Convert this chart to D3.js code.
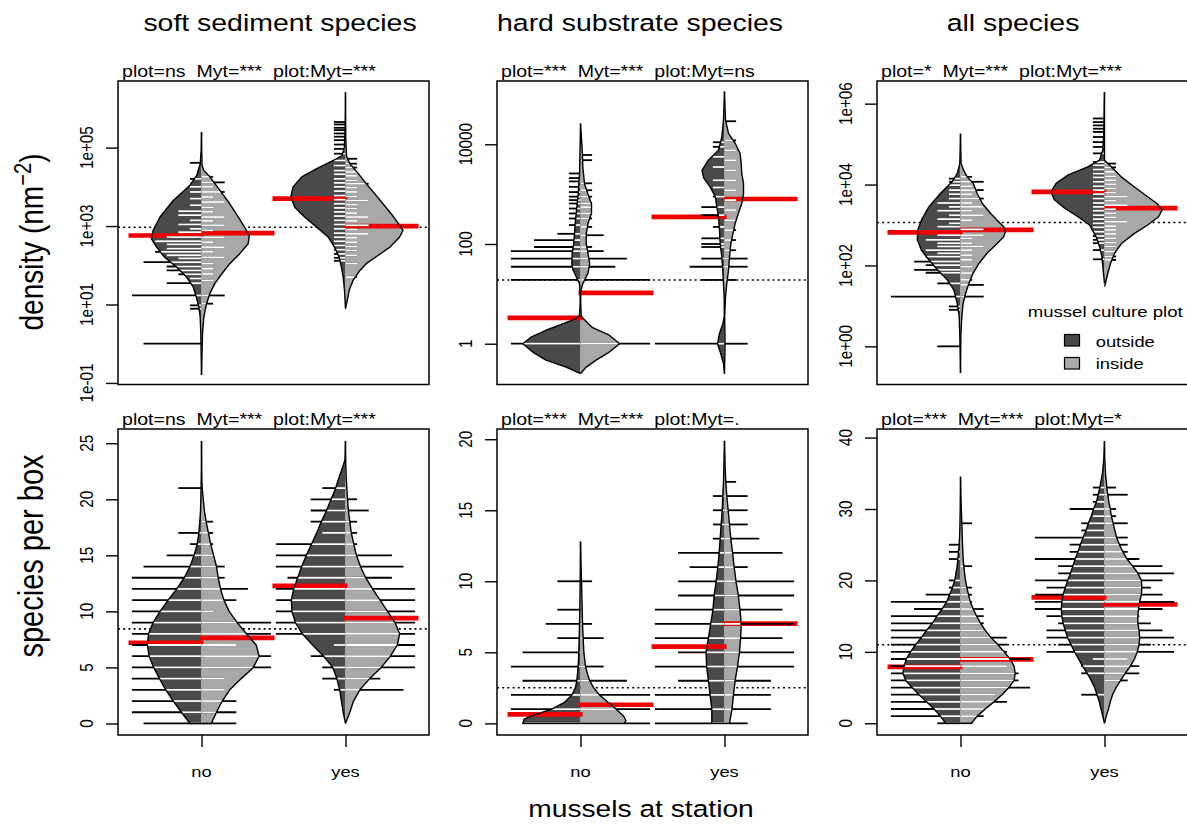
<!DOCTYPE html>
<html><head><meta charset="utf-8">
<script src="https://cdn.jsdelivr.net/npm/d3@7"></script>
<style>
body{margin:0;background:#fff}
text{font-family:"Liberation Sans",Arial,Helvetica,sans-serif}
</style>
</head><body>
<script>
// ---------------- DATA ----------------
const columnTitles = ["soft sediment species", "hard substrate species", "all species"];
const rowTitles = ["density (nm", "species per box"];
const xTitle = "mussels at station";
const groups = ["no", "yes"];
const legendTitle = "mussel culture plot";
const legendLabels = ["outside", "inside"];
const notes = [
  "plot=ns  Myt=***  plot:Myt=***",
  "plot=***  Myt=***  plot:Myt=ns",
  "plot=*  Myt=***  plot:Myt=***",
  "plot=ns  Myt=***  plot:Myt=***",
  "plot=***  Myt=***  plot:Myt=.",
  "plot=***  Myt=***  plot:Myt=*"
];

// axis limits and ticks
const softDensLimits = [0.0912, 5.0e6];
const hardDensLimits = [0.152, 186000];
const allDensLimits = [0.114, 3.63e6];
const softRichLimits = [-1.03, 26.27];
const hardRichLimits = [-0.82, 20.72];
const allRichLimits = [-1.64, 41.2];
const softDensTicks = [0.1, 10, 1000, 100000];
const softDensTickLabels = ["1e-01", "1e+01", "1e+03", "1e+05"];
const hardDensTicks = [1, 100, 10000];
const hardDensTickLabels = ["1", "100", "10000"];
const allDensTicks = [1, 100, 10000, 1000000];
const allDensTickLabels = ["1e+00", "1e+02", "1e+04", "1e+06"];
const softRichTicks = [0, 5, 10, 15, 20, 25];
const hardRichTicks = [0, 5, 10, 15, 20];
const allRichTicks = [0, 10, 20, 30, 40];

// bean outlines: [value, relative density]; order: no/outside, no/inside, yes/outside, yes/inside
const softDens_no_out = [[0.16,0],[1.8,0.012],[4.8,0.023],[8.5,0.046],[15,0.087],[28,0.145],[50,0.26],[89,0.43],[160,0.64],[290,0.78],[480,0.87],[780,0.84],[1700,0.72],[4500,0.49],[11000,0.2],[20000,0.08],[40000,0.02],[100000,0.005],[250000,0]];
const softDens_no_in = [[0.16,0],[1.8,0.017],[4.8,0.04],[10.5,0.087],[19,0.145],[34,0.23],[60,0.35],[110,0.49],[195,0.66],[355,0.81],[575,0.83],[930,0.75],[1700,0.64],[3700,0.49],[8100,0.32],[18000,0.145],[26000,0.04],[35000,0.01],[100000,0.003],[250000,0]];
const softDens_yes_out = [[7.9,0],[23,0.017],[50,0.04],[89,0.07],[160,0.11],[290,0.19],[525,0.3],[930,0.5],[1700,0.71],[3000,0.88],[5500,0.95],[10000,0.91],[18000,0.76],[32000,0.45],[48000,0.2],[63000,0.06],[100000,0.02],[320000,0.006],[1000000,0.002],[2600000,0]];
const softDens_yes_in = [[7.8,0],[12.6,0.03],[23,0.064],[41,0.13],[74,0.25],[110,0.36],[180,0.57],[290,0.77],[525,0.94],[780,1.0],[1150,0.92],[2000,0.8],[3700,0.65],[6600,0.51],[12000,0.36],[22000,0.22],[39000,0.075],[58000,0.02],[160000,0.005],[2600000,0]];

const hardDens_no_out = [[0.25,0],[0.34,0.25],[0.47,0.6],[0.68,0.83],[1,1.0],[1.35,0.86],[1.86,0.6],[2.5,0.31],[3.2,0.075],[3.7,0.017],[6.3,0.006],[10,0.006],[16,0.017],[22,0.075],[30,0.13],[40,0.15],[65,0.145],[100,0.12],[160,0.104],[260,0.093],[410,0.075],[650,0.058],[1000,0.04],[1600,0.029],[2600,0.017],[4800,0.012],[10000,0.006],[26000,0]];
const hardDens_no_in = [[0.25,0],[0.34,0.1],[0.47,0.27],[0.68,0.5],[1,0.68],[1.48,0.5],[2.1,0.21],[3.5,0.012],[7,0.003],[11,0.003],[16,0.04],[26,0.13],[40,0.16],[65,0.13],[100,0.1],[160,0.1],[260,0.13],[410,0.19],[650,0.19],[1000,0.13],[1600,0.07],[3500,0.04],[7600,0.03],[26000,0]];
const hardDens_yes_out = [[0.25,0],[0.4,0.017],[0.63,0.064],[1,0.12],[1.6,0.087],[2.5,0.03],[3.5,0.003],[8.7,0.006],[16,0.017],[30,0.03],[55,0.046],[100,0.075],[190,0.087],[355,0.104],[560,0.133],[890,0.16],[1400,0.25],[2100,0.36],[3000,0.39],[4800,0.28],[7600,0.104],[14000,0.046],[31000,0.017],[115000,0]];
const hardDens_yes_in = [[0.25,0],[1,0.01],[3.5,0.003],[8.7,0.017],[16,0.04],[30,0.07],[55,0.087],[100,0.11],[160,0.145],[260,0.185],[410,0.24],[650,0.3],[1000,0.33],[1650,0.33],[2600,0.3],[4200,0.29],[6600,0.27],[10500,0.185],[16500,0.07],[31000,0.017],[115000,0]];

const allDens_no_out = [[0.22,0],[1.8,0.012],[5.5,0.023],[11.7,0.058],[25,0.116],[44,0.23],[78,0.4],[138,0.55],[240,0.68],[430,0.75],[760,0.74],[1300,0.68],[2800,0.55],[6000,0.35],[11700,0.145],[18600,0.058],[33000,0.012],[180000,0]];
const allDens_no_in = [[0.22,0],[1.8,0.006],[5.5,0.023],[11.7,0.046],[20,0.087],[36,0.145],[65,0.22],[112,0.32],[200,0.46],[355,0.64],[510,0.75],[680,0.78],[910,0.75],[1300,0.64],[1950,0.52],[3400,0.38],[6000,0.29],[10700,0.22],[15500,0.116],[22000,0.058],[33000,0.01],[180000,0]];
const allDens_yes_out = [[36,0],[78,0.023],[166,0.046],[295,0.087],[510,0.145],[1000,0.26],[1600,0.46],[2600,0.69],[4200,0.87],[6600,0.93],[10700,0.84],[17000,0.64],[27500,0.29],[40000,0.087],[71000,0.03],[180000,0.012],[1950000,0]];
const allDens_yes_in = [[30,0],[36,0.017],[65,0.058],[112,0.104],[200,0.174],[355,0.3],[620,0.52],[1000,0.75],[1600,0.94],[2350,1.0],[3400,0.91],[5000,0.75],[8700,0.52],[15500,0.29],[27500,0.116],[40000,0],[1950000,0]];

const softRich_no_out = [[0,0.2],[1,0.35],[2,0.49],[3,0.62],[4,0.73],[5,0.83],[6,0.91],[7,0.94],[8,0.92],[9,0.84],[10,0.72],[11,0.58],[12,0.43],[13,0.3],[14,0.2],[15,0.13],[16,0.075],[17,0.046],[18,0.03],[19,0.017],[20,0.012],[21,0.008],[22,0.004],[23,0.002],[25.2,0]];
const softRich_no_in = [[0,0.17],[1,0.26],[2,0.36],[3,0.49],[4,0.69],[5,0.9],[6,1.0],[7,0.95],[8,0.78],[9,0.62],[10,0.48],[11,0.39],[12,0.33],[13,0.29],[14,0.26],[15,0.21],[16,0.16],[17,0.12],[18,0.08],[19,0.05],[20,0.03],[21,0.012],[22,0.005],[25.2,0]];
const softRich_yes_out = [[0,0],[1,0.04],[2,0.07],[3,0.1],[4,0.15],[5,0.22],[6,0.38],[7,0.57],[8,0.75],[9,0.87],[10,0.93],[11,0.94],[12,0.9],[13,0.83],[14,0.76],[15,0.68],[16,0.59],[17,0.5],[18,0.42],[19,0.33],[20,0.25],[21,0.17],[22,0.11],[23,0.04],[23.5,0.01],[25.2,0]];
const softRich_yes_in = [[0,0],[1,0.075],[2,0.14],[3,0.25],[4,0.42],[5,0.62],[6,0.78],[7,0.9],[8,0.94],[9,0.86],[10,0.73],[11,0.6],[12,0.47],[13,0.35],[14,0.26],[15,0.19],[16,0.145],[17,0.1],[18,0.075],[19,0.05],[20,0.035],[21,0.023],[22,0.012],[23,0.005],[25.2,0]];

const hardRich_no_out = [[0,1.0],[0.3,0.98],[0.6,0.8],[1,0.5],[1.5,0.27],[2,0.15],[2.5,0.09],[3,0.064],[4,0.04],[5,0.03],[6,0.023],[7,0.017],[8,0.012],[10,0.006],[12,0.002],[12.8,0]];
const hardRich_no_in = [[0,0.76],[0.2,0.79],[0.5,0.75],[1,0.62],[1.5,0.47],[2,0.33],[2.5,0.23],[3,0.16],[3.5,0.12],[4,0.087],[5,0.058],[6,0.046],[7,0.035],[8,0.029],[9,0.023],[10,0.017],[11,0.01],[12,0.005],[12.8,0]];
const hardRich_yes_out = [[0,0.22],[1,0.22],[2,0.25],[3,0.28],[4,0.31],[5,0.32],[6,0.28],[7,0.24],[8,0.2],[9,0.18],[10,0.145],[11,0.116],[12,0.093],[13,0.075],[14,0.058],[15,0.04],[16,0.03],[17,0.017],[18,0.012],[19.9,0]];
const hardRich_yes_in = [[0,0.087],[1,0.13],[2,0.156],[3,0.185],[4,0.226],[5,0.26],[6,0.28],[7,0.29],[8,0.27],[9,0.24],[10,0.2],[11,0.168],[12,0.14],[13,0.11],[14,0.087],[15,0.064],[16,0.04],[17,0.023],[18,0.012],[19.9,0]];

const allRich_no_out = [[0,0.26],[1,0.35],[2,0.46],[3,0.59],[4,0.72],[5,0.84],[6,0.95],[7,1.0],[8,0.98],[9,0.94],[10,0.87],[11,0.78],[12,0.68],[13,0.59],[14,0.49],[15,0.41],[16,0.32],[17,0.24],[18,0.19],[19,0.14],[20,0.1],[21,0.08],[22,0.058],[23,0.046],[24,0.035],[25,0.023],[27,0.012],[30,0.005],[34.5,0]];
const allRich_no_in = [[0,0.19],[1,0.29],[2,0.43],[3,0.58],[4,0.72],[5,0.84],[6,0.93],[7,0.95],[8,0.93],[9,0.86],[10,0.76],[11,0.65],[12,0.53],[13,0.43],[14,0.35],[15,0.28],[16,0.22],[17,0.17],[18,0.14],[19,0.11],[20,0.087],[21,0.07],[22,0.058],[23,0.046],[25,0.035],[28,0.023],[31,0.01],[34.5,0]];
const allRich_yes_out = [[0,0],[1,0.03],[2,0.06],[3,0.09],[4,0.13],[5,0.17],[6,0.23],[7,0.3],[8,0.38],[9,0.45],[10,0.52],[11,0.58],[12,0.64],[13,0.68],[14,0.72],[15,0.74],[16,0.75],[17,0.74],[18,0.72],[19,0.68],[20,0.64],[21,0.59],[22,0.55],[23,0.51],[24,0.46],[25,0.42],[26,0.37],[27,0.32],[28,0.28],[29,0.23],[30,0.19],[31,0.14],[32,0.11],[33,0.08],[34,0.06],[35,0.035],[36,0.023],[37,0.012],[39.5,0]];
const allRich_yes_in = [[0,0],[1,0.03],[2,0.07],[3,0.1],[4,0.14],[5,0.2],[6,0.28],[7,0.36],[8,0.45],[9,0.52],[10,0.57],[11,0.6],[12,0.61],[13,0.6],[14,0.58],[15,0.58],[16,0.59],[17,0.61],[18,0.64],[19,0.65],[20,0.64],[21,0.58],[22,0.49],[23,0.39],[24,0.32],[25,0.26],[26,0.21],[27,0.18],[28,0.15],[29,0.12],[30,0.1],[31,0.075],[32,0.058],[33,0.04],[34,0.03],[35,0.017],[37,0.005],[39.5,0]];

// bean lines (single observations): [value, number of identical observations]
const softDensLines_no_out = [[41000,1],[16000,1],[10000,1],[7400,1],[5000,1],[3400,1],[2400,2],[1900,2],[1400,1],[1100,2],[850,1],[700,2],[520,3],[410,4],[340,3],[265,3],[220,4],[180,3],[150,2],[120,5],[93,3],[74,3],[59,2],[46,1],[35,3],[17,6],[9.5,1],[7.8,1],[1,5]];
const softDensLines_no_in = [[18000,1],[13000,2],[10000,1],[7400,2],[5500,1],[4100,2],[3000,1],[2300,1],[1700,2],[1350,1],[1050,2],[780,1],[520,2],[390,1],[290,2],[220,1],[160,2],[110,1],[81,1],[60,1],[41,1],[17,2],[10.5,1]];
const softDensLines_yes_out = [[450000,1],[390000,1],[320000,1],[280000,1],[230000,1],[190000,1],[155000,1],[120000,1],[93000,1],[70000,1],[47000,1],[35000,1],[26000,1],[21000,1],[16000,1],[12600,1],[10000,1],[7800,1],[6000,1],[4700,1],[3700,1],[2900,1],[2300,1],[1800,1],[1400,1],[1100,1],[850,1],[660,1],[520,1],[410,1],[320,1],[250,1],[195,1],[155,1],[130,1]];
const softDensLines_yes_in = [[52000,1],[39000,1],[31000,1],[24000,1],[19000,1],[14500,1],[12000,2],[9500,1],[7400,1],[5700,1],[4500,2],[3500,1],[2800,1],[2150,1],[1700,2],[1350,1],[1050,2],[810,1],[630,2],[500,1],[390,1],[300,1],[240,1],[180,1],[110,1],[50,1]];

const hardDensLines_no_out = [[1,6],[19,6],[35,6],[51,6],[72,6],[87,4],[120,4],[160,2],[240,1],[325,1],[410,1],[515,1],[650,1],[760,1],[890,1],[1100,1],[1400,1],[1800,1],[2100,1],[2600,1]];
const hardDensLines_no_in = [[1,6],[19,6],[35,3],[51,4],[72,2],[87,1],[150,2],[220,1],[325,1],[410,1],[550,1],[650,1],[890,1],[1200,1],[1650,1],[4800,1],[6100,1]];
const hardDensLines_yes_out = [[1,6],[19,2],[35,3],[51,2],[87,2],[100,2],[130,2],[220,1],[380,2],[550,2],[890,1],[1360,1],[1900,1],[3500,1],[5600,1],[8900,1],[11000,1]];
const hardDensLines_yes_in = [[1,2],[19,1],[35,2],[51,2],[75,1],[120,1],[190,1],[300,1],[480,1],[760,1],[1200,1],[1900,1],[3000,1],[4800,1],[7600,1],[12000,1],[29000,1]];

const allDensLines_no_out = [[14000,1],[11700,1],[9700,1],[7300,1],[5800,1],[4500,1],[3500,2],[2800,1],[2250,2],[1750,1],[1400,2],[1100,1],[910,2],[560,2],[430,3],[355,2],[295,2],[240,3],[200,2],[166,3],[125,4],[102,3],[78,4],[66,3],[36,2],[17,6],[9.7,1],[8,1],[1,2]];
const allDensLines_no_in = [[15500,1],[11700,2],[9100,1],[7300,2],[5800,1],[4500,2],[3500,1],[2800,2],[2250,1],[1750,2],[1320,1],[780,2],[560,2],[470,1],[355,1],[295,2],[240,1],[180,1],[137,1],[93,1],[65,1],[44,1],[33,2],[17,2]];
const allDensLines_yes_out = [[430000,1],[350000,1],[290000,1],[240000,1],[200000,1],[150000,1],[112000,1],[85000,1],[59000,1],[36000,1],[30000,1],[23500,1],[18600,1],[15000,1],[11700,1],[9100,1],[7300,1],[5800,1],[4500,1],[3500,1],[2800,1],[2250,1],[1750,1],[1400,1],[1100,1],[880,1],[680,1],[535,1],[430,1],[355,1],[240,1],[142,1]];
const allDensLines_yes_in = [[33000,1],[26500,1],[20600,1],[16000,1],[12800,1],[10200,1],[8000,1],[6300,1],[5000,2],[4000,1],[3100,2],[2450,1],[1950,1],[1550,1],[1200,2],[940,1],[755,1],[600,1],[470,1],[365,1],[295,1],[220,1],[166,1],[137,1]];

const softRichLines_no_out = [[0,5],[1,6],[2,6],[3,6],[4,6],[5,6],[6,6],[7,6],[8,6],[9,6],[10,6],[11,6],[12,6],[13,6],[14,5],[15,3],[16,1],[17,2],[21,2]];
const softRichLines_no_in = [[0,3],[1,3],[2,3],[3,2],[4,2],[5,6],[6,6],[7,3],[8,6],[9,6],[10,1],[11,3],[12,4],[13,2],[14,2],[15,1],[16,1],[17,1],[18,1]];
const softRichLines_yes_out = [[3,1],[4,2],[5,2],[6,3],[7,1],[8,6],[9,6],[10,6],[11,6],[12,6],[13,5],[14,6],[15,6],[16,6],[17,2],[18,3],[19,3],[20,3],[21,2]];
const softRichLines_yes_in = [[3,5],[4,3],[5,6],[6,6],[7,6],[8,6],[9,6],[10,6],[11,6],[12,6],[13,4],[14,5],[15,4],[16,1],[17,1],[18,1],[19,2],[20,1]];

const hardRichLines_no_out = [[0,5],[1,6],[2,6],[3,5],[4,6],[5,5],[6,2],[7,3],[8,2],[10,2]];
const hardRichLines_no_in = [[0,6],[1,6],[2,6],[3,4],[4,2],[6,2],[7,1],[10,1]];
const hardRichLines_yes_out = [[0,6],[1,6],[2,6],[3,4],[4,6],[5,4],[6,6],[7,6],[8,6],[9,4],[10,4],[11,3],[12,4],[13,1],[14,1],[15,1],[16,1]];
const hardRichLines_yes_in = [[0,2],[1,4],[2,4],[3,4],[4,6],[5,6],[6,5],[7,6],[8,5],[9,6],[10,6],[11,2],[12,5],[13,3],[14,2],[15,2],[16,2],[17,1]];

const allRichLines_no_out = [[0,2],[1,6],[2,6],[3,6],[4,6],[5,6],[6,6],[7,6],[8,6],[9,6],[10,6],[11,6],[12,6],[13,6],[14,6],[15,6],[16,4],[17,6],[18,3],[19,1],[20,1],[23,1],[24,1],[25,1]];
const allRichLines_no_in = [[0,1],[1,2],[2,2],[3,4],[4,3],[5,6],[6,5],[7,5],[8,4],[9,6],[10,4],[11,4],[12,4],[13,2],[14,2],[15,2],[16,2],[17,1],[18,1],[19,1],[22,1],[28,1]];
const allRichLines_yes_out = [[4,2],[7,2],[8,2],[9,1],[10,5],[11,4],[12,5],[13,5],[14,4],[15,5],[16,6],[17,6],[18,6],[19,5],[20,6],[21,4],[22,4],[23,6],[24,3],[25,3],[26,6],[27,2],[28,2],[29,1],[30,3],[31,1],[32,1],[33,1]];
const allRichLines_yes_in = [[6,2],[7,3],[8,3],[9,2],[10,6],[11,4],[12,6],[13,5],[14,4],[15,3],[16,5],[17,6],[18,5],[19,4],[20,5],[21,6],[22,5],[23,3],[24,2],[25,2],[26,2],[28,2],[29,1],[30,1],[32,2],[33,1]];

// group means (no/out, no/in, yes/out, yes/in) and overall mean
const softDensMeans = [575, 660, 5000, 1000];   const softDensOverall = 930;
const hardDensMeans = [3.3, 10.5, 350, 800];    const hardDensOverall = 19;
const allDensMeans = [660, 755, 6600, 2600];    const allDensOverall = 1150;
const softRichMeans = [7.2, 7.63, 12.28, 9.39]; const softRichOverall = 8.44;
const hardRichMeans = [0.63, 1.31, 5.4, 7.02];  const hardRichOverall = 2.51;
const allRichMeans = [7.89, 8.96, 17.64, 16.66]; const allRichOverall = 11.0;

// ---------------- DRAWING ----------------
const W = 1187, H = 828;
const DARK = "#4a4a4a", LIGHT = "#a8a8a8", RED = "#f00000";
const SX = 1.2;                 // horizontal glyph stretch of the source image
const colX = [118, 497, 877];
const rowY = [[81, 384.5], [429, 735]];
const BOXW = 311;
const BEANW = 57.6;             // px for relative density 1
const LINEU = 11.6, LINECAP = 6;
const MEANLEN = 73;

const svg = d3.select("body").append("svg").attr("width", W).attr("height", H).style("display", "block");
svg.append("rect").attr("width", W).attr("height", H).attr("fill", "#fff");

function label(x, y, str, size, anchor, rotate) {
  return svg.append("text")
    .attr("transform", `translate(${x},${y}) scale(${SX},1)` + (rotate ? ` rotate(${rotate})` : ""))
    .attr("font-size", size).attr("text-anchor", anchor || "start").attr("fill", "#000")
    .style("white-space", "pre")
    .text(str);
}

const panels = [
  {c:0, r:0, log:true, lim:softDensLimits, ticks:softDensTicks, tickLabels:softDensTickLabels,
   beans:[[softDens_no_out,softDensLines_no_out],[softDens_no_in,softDensLines_no_in],[softDens_yes_out,softDensLines_yes_out],[softDens_yes_in,softDensLines_yes_in]],
   means:softDensMeans, overall:softDensOverall, note:notes[0]},
  {c:1, r:0, log:true, lim:hardDensLimits, ticks:hardDensTicks, tickLabels:hardDensTickLabels,
   beans:[[hardDens_no_out,hardDensLines_no_out],[hardDens_no_in,hardDensLines_no_in],[hardDens_yes_out,hardDensLines_yes_out],[hardDens_yes_in,hardDensLines_yes_in]],
   means:hardDensMeans, overall:hardDensOverall, note:notes[1]},
  {c:2, r:0, log:true, lim:allDensLimits, ticks:allDensTicks, tickLabels:allDensTickLabels,
   beans:[[allDens_no_out,allDensLines_no_out],[allDens_no_in,allDensLines_no_in],[allDens_yes_out,allDensLines_yes_out],[allDens_yes_in,allDensLines_yes_in]],
   means:allDensMeans, overall:allDensOverall, note:notes[2]},
  {c:0, r:1, log:false, lim:softRichLimits, ticks:softRichTicks, tickLabels:softRichTicks.map(String),
   beans:[[softRich_no_out,softRichLines_no_out],[softRich_no_in,softRichLines_no_in],[softRich_yes_out,softRichLines_yes_out],[softRich_yes_in,softRichLines_yes_in]],
   means:softRichMeans, overall:softRichOverall, note:notes[3]},
  {c:1, r:1, log:false, lim:hardRichLimits, ticks:hardRichTicks, tickLabels:hardRichTicks.map(String),
   beans:[[hardRich_no_out,hardRichLines_no_out],[hardRich_no_in,hardRichLines_no_in],[hardRich_yes_out,hardRichLines_yes_out],[hardRich_yes_in,hardRichLines_yes_in]],
   means:hardRichMeans, overall:hardRichOverall, note:notes[4]},
  {c:2, r:1, log:false, lim:allRichLimits, ticks:allRichTicks, tickLabels:allRichTicks.map(String),
   beans:[[allRich_no_out,allRichLines_no_out],[allRich_no_in,allRichLines_no_in],[allRich_yes_out,allRichLines_yes_out],[allRich_yes_in,allRichLines_yes_in]],
   means:allRichMeans, overall:allRichOverall, note:notes[5]}
];

function widthAt(pts, yy) {
  for (let i = 0; i < pts.length - 1; i++) {
    const [y1, w1] = pts[i], [y2, w2] = pts[i + 1];
    if ((yy <= y1 && yy >= y2) || (yy >= y1 && yy <= y2)) {
      if (y1 === y2) return Math.max(w1, w2);
      return w1 + (w2 - w1) * (yy - y1) / (y2 - y1);
    }
  }
  return 0;
}

panels.forEach(p => {
  const x0 = colX[p.c], top = rowY[p.r][0], bot = rowY[p.r][1];
  const x = d3.scaleLinear().domain([0.42, 2.58]).range([x0, x0 + BOXW]);
  const y = (p.log ? d3.scaleLog() : d3.scaleLinear()).domain(p.lim).range([bot, top]);
  const g = svg.append("g");

  g.append("line").attr("x1", x0).attr("x2", x0 + BOXW)
    .attr("y1", y(p.overall)).attr("y2", y(p.overall))
    .attr("stroke", "#000").attr("stroke-width", 1.6).attr("stroke-dasharray", "2,3.2");

  const halves = p.beans.map((b, i) => ({
    grp: i < 2 ? 1 : 2, dir: i % 2 === 0 ? -1 : 1,
    outline: b[0], lines: b[1], mean: p.means[i], fill: i % 2 === 0 ? DARK : LIGHT
  }));
  halves.forEach(h => {
    h.cx = x(h.grp);
    h.pts = h.outline.map(([v, w]) => [h.cx + h.dir * w * BEANW, y(v)]);
    h.poly = [[h.cx, h.pts[0][1]], ...h.pts, [h.cx, h.pts[h.pts.length - 1][1]]];
    h.wy = h.outline.map(([v, w]) => [y(v), w * BEANW]);
  });

  halves.forEach(h => {
    g.append("path").attr("d", d3.line()(h.poly) + "Z").attr("fill", h.fill).attr("stroke", "none");
  });
  halves.forEach(h => {
    g.append("line").attr("x1", h.cx - h.dir * 2).attr("x2", h.cx + h.dir * MEANLEN)
      .attr("y1", y(h.mean)).attr("y2", y(h.mean))
      .attr("stroke", RED).attr("stroke-width", 4.7);
  });
  halves.forEach(h => {
    h.lines.forEach(([v, n]) => {
      const yy = y(v);
      const len = Math.min(n, LINECAP) * LINEU;
      const inside = Math.min(len, widthAt(h.wy, yy));
      g.append("line").attr("x1", h.cx).attr("x2", h.cx + h.dir * len)
        .attr("y1", yy).attr("y2", yy).attr("stroke", "#000").attr("stroke-width", 1.8);
      if (inside > 0.8) {
        g.append("line").attr("x1", h.cx).attr("x2", h.cx + h.dir * inside)
          .attr("y1", yy).attr("y2", yy).attr("stroke", "#fff").attr("stroke-width", 1.8);
      }
    });
  });
  halves.forEach(h => {
    g.append("path").attr("d", d3.line()(h.poly)).attr("fill", "none")
      .attr("stroke", "#000").attr("stroke-width", 1.4).attr("stroke-linejoin", "round");
  });
  g.append("rect").attr("x", x0).attr("y", top).attr("width", BOXW).attr("height", bot - top)
    .attr("fill", "none").attr("stroke", "#000").attr("stroke-width", 1.5);

  const ag = svg.append("g").attr("transform", `translate(${x0},0)`)
    .call(d3.axisLeft(y).tickValues(p.ticks).tickFormat("").tickSize(12).tickSizeOuter(0));
  ag.select(".domain").remove();
  ag.selectAll(".tick line").attr("stroke", "#000").attr("stroke-width", 1.4);
  p.ticks.forEach((t, i) => label(x0 - 25.5, y(t), p.tickLabels[i], 15.3, "middle", -90));

  label(x0 + 4, top - 4, p.note, 16.3, "start");

  if (p.r === 1) {
    const xg = svg.append("g").attr("transform", `translate(0,${bot})`)
      .call(d3.axisBottom(x).tickValues([1, 2]).tickFormat("").tickSize(12).tickSizeOuter(0));
    xg.select(".domain").remove();
    xg.selectAll(".tick line").attr("stroke", "#000").attr("stroke-width", 1.4);
    groups.forEach((gname, i) => label(x(i + 1), bot + 42, gname, 15.3, "middle"));
  }

  if (p.c === 2 && p.r === 0) {
    label(1027.7, 316.7, legendTitle, 15.5, "start");
    [DARK, LIGHT].forEach((col, i) => {
      svg.append("rect").attr("x", 1064.5).attr("y", 334.5 + i * 23).attr("width", 15).attr("height", 11.5)
        .attr("fill", col).attr("stroke", "#000").attr("stroke-width", 1.2);
      label(1095.7, 346.7 + i * 22.6, legendLabels[i], 15.3, "start");
    });
  }
});

[280, 640, 1013].forEach((cx, i) => label(cx, 30.7, columnTitles[i], 23.7, "middle"));
label(641, 817, xTitle, 23.5, "middle");
const dt = label(43, 242, "", 28, "middle", -90);
dt.append("tspan").text(rowTitles[0]);
dt.append("tspan").attr("dy", "-0.5em").attr("font-size", "0.72em").text("\u22122");
dt.append("tspan").attr("dy", "0.36em").text(")");
label(43, 556, rowTitles[1], 29, "middle", -90);
</script>
</body></html>
